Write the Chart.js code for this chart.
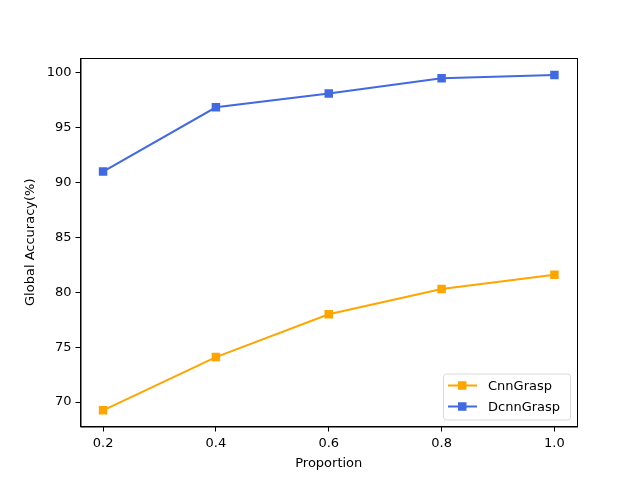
<!DOCTYPE html>
<html>
<head>
<meta charset="utf-8">
<script src="https://cdn.jsdelivr.net/npm/chart.js@4"></script>
<style>
  html, body { margin: 0; padding: 0; background: #fff; }
  #wrap { width: 640px; height: 480px; }
</style>
</head>
<body>
<div id="wrap"><canvas id="accChart" width="640" height="480"></canvas></div>
<script>
// dados
const proportions = [0.2, 0.4, 0.6, 0.8, 1.0];
const cnnGrasp = [69.25, 74.1, 78.0, 80.3, 81.6];
const dcnnGrasp = [91.0, 96.85, 98.1, 99.5, 99.8];
const xTicks = [0.2, 0.4, 0.6, 0.8, 1.0];
const yTicks = [70, 75, 80, 85, 90, 95, 100];

Chart.defaults.font.family = "'DejaVu Sans', sans-serif";
Chart.defaults.font.size = 13;
Chart.defaults.color = '#000';

const toPoints = (ys) => proportions.map((x, i) => ({ x: x, y: ys[i] }));

// moldura completa em volta da área do gráfico
const frame = {
    id: 'frame',
    afterDraw(chart) {
        const { ctx, chartArea: a } = chart;
        ctx.save();
        ctx.strokeStyle = '#000';
        ctx.lineWidth = 1;
        ctx.strokeRect(a.left + 0.5, a.top + 0.5, a.right - a.left, a.bottom - a.top);
        ctx.restore();
    }
};

// legenda dentro do gráfico, canto inferior direito
const innerLegend = {
    id: 'innerLegend',
    afterDraw(chart) {
        const { ctx, chartArea: a } = chart;
        const sets = chart.data.datasets;
        const w = 127, h = 46;
        const x0 = a.right - 7 - w, y0 = a.bottom - 7 - h;
        ctx.save();
        ctx.fillStyle = 'rgba(255,255,255,0.8)';
        ctx.strokeStyle = '#d9d9d9';
        ctx.lineWidth = 1;
        ctx.beginPath();
        ctx.roundRect(x0 + 0.5, y0 + 0.5, w, h, 3);
        ctx.fill();
        ctx.stroke();
        ctx.font = "13px 'DejaVu Sans', sans-serif";
        ctx.textBaseline = 'middle';
        sets.forEach((ds, i) => {
            const cy = y0 + 12 + i * 21;
            ctx.strokeStyle = ds.borderColor;
            ctx.lineWidth = 2;
            ctx.beginPath();
            ctx.moveTo(x0 + 5, cy);
            ctx.lineTo(x0 + 34, cy);
            ctx.stroke();
            ctx.fillStyle = ds.borderColor;
            ctx.fillRect(x0 + 15, cy - 4.25, 8.5, 8.5);
            ctx.fillStyle = '#000';
            ctx.fillText(ds.label, x0 + 45, cy + 1);
        });
        ctx.restore();
    }
};

const ctx = document.getElementById('accChart').getContext('2d');
const accChart = new Chart(ctx, {
    type: 'line',
    data: {
        datasets: [{
            label: 'CnnGrasp',
            data: toPoints(cnnGrasp),
            borderColor: '#FFA500',
            backgroundColor: '#FFA500',
            borderWidth: 2,
            pointStyle: 'rect',
            pointRadius: 6,
            pointBorderWidth: 0,
            tension: 0
        }, {
            label: 'DcnnGrasp',
            data: toPoints(dcnnGrasp),
            borderColor: '#4169E1',
            backgroundColor: '#4169E1',
            borderWidth: 2,
            pointStyle: 'rect',
            pointRadius: 6,
            pointBorderWidth: 0,
            tension: 0
        }]
    },
    options: {
        responsive: false,
        animation: false,
        layout: { padding: { left: 0, top: 58, right: 63, bottom: 0 } },
        plugins: {
            legend: { display: false },
            tooltip: { enabled: false }
        },
        scales: {
            x: {
                type: 'linear',
                min: 0.16,
                max: 1.04,
                afterBuildTicks: (scale) => { scale.ticks = xTicks.map(v => ({ value: v })); },
                afterFit: (scale) => { scale.height = 53.5; },
                ticks: {
                    callback: (v) => v.toFixed(1),
                    padding: 4,
                    maxRotation: 0
                },
                grid: { drawOnChartArea: false, drawTicks: true, tickLength: 5, tickColor: '#000' },
                border: { display: true, color: '#000' },
                title: { display: true, text: 'Proportion', padding: { top: 2, bottom: 9 } }
            },
            y: {
                min: 67.78,
                max: 101.34,
                afterBuildTicks: (scale) => { scale.ticks = yTicks.map(v => ({ value: v })); },
                afterFit: (scale) => { scale.width = 80.5; },
                ticks: { padding: 4 },
                grid: { drawOnChartArea: false, drawTicks: true, tickLength: 5, tickColor: '#000' },
                border: { display: true, color: '#000' },
                title: { display: true, text: 'Global Accuracy(%)', padding: { top: 23, bottom: 4 } }
            }
        }
    },
    plugins: [frame, innerLegend]
});
</script>
</body>
</html>
